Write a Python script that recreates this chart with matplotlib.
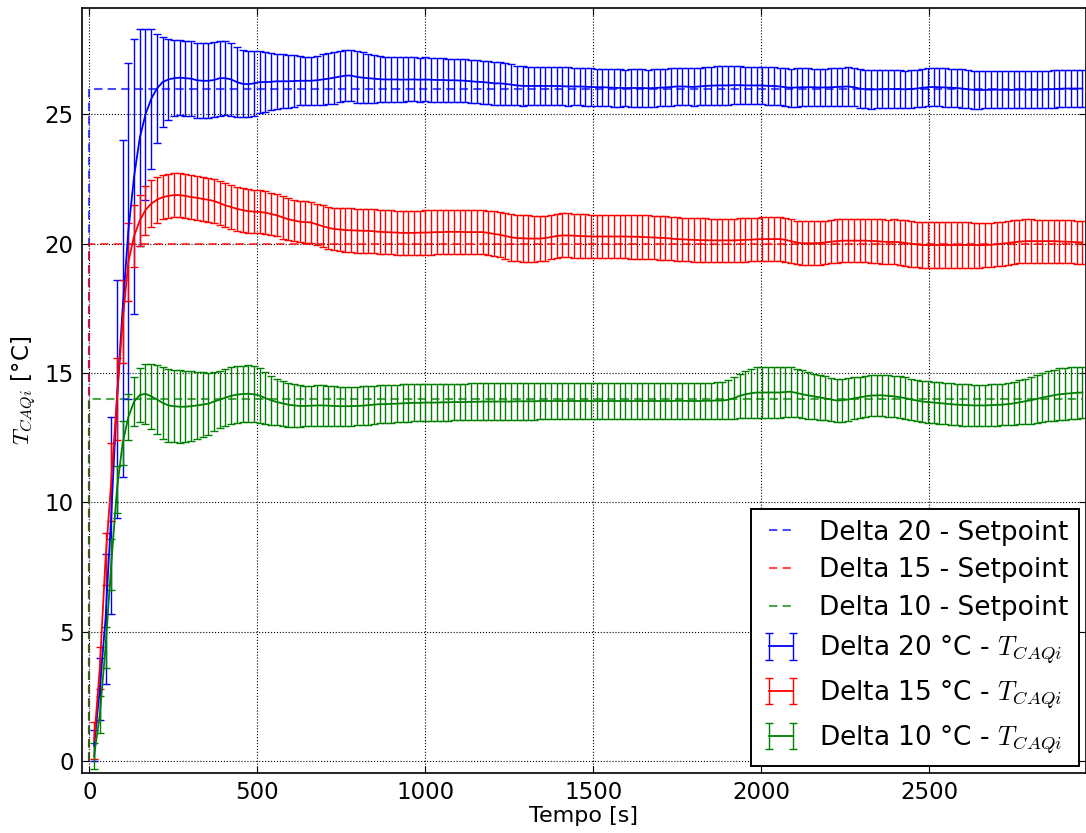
import numpy as np
import matplotlib
matplotlib.use('Agg')
import matplotlib.pyplot as plt

plt.rcParams['mathtext.fontset'] = 'cm'
plt.rcParams['font.family'] = 'DejaVu Sans'

# time base of the acquisitions (s)
tempo = np.arange(14, 2956, 17)

# setpoints (step at t = 0)
sp_tempo = [0, 0, 2955]
sp_d20 = [0, 26, 26]
sp_d15 = [0, 20, 20]
sp_d10 = [0, 14, 14]

# Delta 20 °C
t_d20 = [
    0.6, 2.8, 5.5, 9.5, 14.0, 17.5, 20.5, 22.6, 24.1, 25.0,
    25.6, 26.0, 26.25, 26.35, 26.4, 26.42, 26.4, 26.38, 26.32, 26.3,
    26.3, 26.33, 26.4, 26.4, 26.35, 26.25, 26.18, 26.17, 26.2, 26.25,
    26.25, 26.26, 26.28, 26.28, 26.28, 26.29, 26.3, 26.3, 26.3, 26.32,
    26.35, 26.38, 26.42, 26.46, 26.5, 26.5, 26.45, 26.42, 26.4, 26.38,
    26.36, 26.35, 26.35, 26.35, 26.34, 26.35, 26.35, 26.34, 26.35, 26.34,
    26.33, 26.33, 26.32, 26.32, 26.31, 26.3, 26.28, 26.26, 26.25, 26.23,
    26.2, 26.2, 26.18, 26.15, 26.12, 26.1, 26.1, 26.1, 26.1, 26.1,
    26.1, 26.1, 26.09, 26.08, 26.08, 26.08, 26.07, 26.06, 26.05, 26.05,
    26.04, 26.03, 26.02, 26.02, 26.02, 26.02, 26.02, 26.01, 26.02, 26.03,
    26.04, 26.06, 26.08, 26.08, 26.07, 26.06, 26.08, 26.1, 26.11, 26.12,
    26.12, 26.12, 26.13, 26.13, 26.12, 26.12, 26.12, 26.12, 26.1, 26.1,
    26.08, 26.05, 26.03, 26.04, 26.05, 26.05, 26.05, 26.04, 26.04, 26.05,
    26.06, 26.07, 26.08, 26.05, 26.0, 25.97, 25.96, 25.97, 25.97, 25.98,
    25.98, 25.98, 25.97, 25.98, 26.0, 26.03, 26.05, 26.06, 26.05, 26.04,
    26.03, 26.02, 26.0, 25.97, 25.95, 25.94, 25.95, 25.95, 25.96, 25.95,
    25.95, 25.95, 25.96, 25.96, 25.95, 25.95, 25.96, 25.97, 25.98, 25.99,
    26.0, 26.0, 26.0, 26.0]
err_d20 = [
    0.6, 1.2, 2.5, 3.8, 4.6, 6.5, 6.5, 5.3, 4.2, 3.3,
    2.7, 2.1, 1.75, 1.55, 1.47, 1.45, 1.45, 1.45, 1.45, 1.45,
    1.45, 1.45, 1.45, 1.42, 1.4, 1.35, 1.3, 1.28, 1.25, 1.2,
    1.15, 1.1, 1.07, 1.05, 1.03, 1.0, 0.95, 0.93, 0.93, 0.95,
    0.97, 0.98, 1.0, 1.0, 1.0, 1.0, 1.0, 0.98, 0.95, 0.93,
    0.9, 0.88, 0.87, 0.86, 0.86, 0.85, 0.85, 0.85, 0.85, 0.85,
    0.85, 0.84, 0.84, 0.84, 0.83, 0.83, 0.83, 0.83, 0.83, 0.82,
    0.82, 0.82, 0.8, 0.78, 0.77, 0.76, 0.75, 0.75, 0.75, 0.75,
    0.75, 0.74, 0.74, 0.74, 0.73, 0.73, 0.73, 0.73, 0.72, 0.72,
    0.72, 0.73, 0.72, 0.71, 0.72, 0.72, 0.73, 0.72, 0.72, 0.71,
    0.72, 0.72, 0.73, 0.73, 0.72, 0.72, 0.73, 0.74, 0.74, 0.74,
    0.74, 0.74, 0.73, 0.73, 0.73, 0.72, 0.72, 0.72, 0.72, 0.72,
    0.73, 0.73, 0.74, 0.74, 0.73, 0.73, 0.72, 0.72, 0.72, 0.73,
    0.73, 0.73, 0.74, 0.74, 0.74, 0.74, 0.74, 0.74, 0.73, 0.73,
    0.73, 0.72, 0.72, 0.72, 0.72, 0.73, 0.73, 0.74, 0.74, 0.74,
    0.74, 0.74, 0.74, 0.74, 0.73, 0.73, 0.72, 0.72, 0.72, 0.72,
    0.72, 0.72, 0.72, 0.72, 0.72, 0.72, 0.72, 0.72, 0.72, 0.72,
    0.72, 0.72, 0.72, 0.72]

# Delta 15 °C
t_d15 = [
    0.8, 3.6, 7.8, 10.8, 14.0, 17.0, 19.3, 20.3, 20.9, 21.3,
    21.55, 21.7, 21.8, 21.85, 21.88, 21.88, 21.85, 21.8, 21.78, 21.73,
    21.7, 21.65, 21.57, 21.48, 21.42, 21.35, 21.3, 21.26, 21.24, 21.23,
    21.2, 21.15, 21.1, 21.02, 20.95, 20.9, 20.85, 20.84, 20.82, 20.75,
    20.68, 20.62, 20.57, 20.55, 20.53, 20.52, 20.51, 20.5, 20.5, 20.48,
    20.46, 20.45, 20.44, 20.43, 20.42, 20.42, 20.42, 20.43, 20.43, 20.44,
    20.45, 20.45, 20.46, 20.46, 20.46, 20.45, 20.45, 20.45, 20.45, 20.42,
    20.38, 20.35, 20.3, 20.25, 20.22, 20.21, 20.2, 20.2, 20.2, 20.22,
    20.26, 20.3, 20.32, 20.32, 20.31, 20.3, 20.29, 20.28, 20.28, 20.28,
    20.28, 20.28, 20.28, 20.28, 20.27, 20.27, 20.26, 20.25, 20.24, 20.23,
    20.22, 20.2, 20.18, 20.17, 20.16, 20.15, 20.14, 20.14, 20.13, 20.13,
    20.13, 20.13, 20.13, 20.14, 20.15, 20.16, 20.17, 20.18, 20.18, 20.18,
    20.18, 20.15, 20.1, 20.05, 20.02, 20.02, 20.02, 20.03, 20.05, 20.08,
    20.1, 20.12, 20.12, 20.12, 20.12, 20.12, 20.11, 20.1, 20.08, 20.07,
    20.07, 20.06, 20.03, 20.0, 19.97, 19.95, 19.95, 19.95, 19.95, 19.95,
    19.95, 19.95, 19.95, 19.95, 19.95, 19.95, 19.95, 19.96, 19.98, 20.0,
    20.03, 20.06, 20.08, 20.1, 20.1, 20.1, 20.1, 20.1, 20.1, 20.09,
    20.08, 20.07, 20.06, 20.05]
err_d15 = [
    0.7, 0.8, 1.0, 1.5, 1.6, 1.6, 1.5, 1.2, 1.0, 0.95,
    0.9, 0.88, 0.86, 0.85, 0.85, 0.85, 0.85, 0.85, 0.85, 0.85,
    0.85, 0.85, 0.85, 0.85, 0.84, 0.84, 0.84, 0.84, 0.83, 0.83,
    0.83, 0.82, 0.82, 0.82, 0.81, 0.8, 0.8, 0.8, 0.8, 0.8,
    0.8, 0.81, 0.82, 0.83, 0.84, 0.85, 0.85, 0.85, 0.85, 0.85,
    0.85, 0.85, 0.85, 0.85, 0.85, 0.85, 0.85, 0.85, 0.86, 0.86,
    0.86, 0.86, 0.86, 0.85, 0.85, 0.85, 0.85, 0.85, 0.86, 0.86,
    0.87, 0.88, 0.89, 0.9, 0.9, 0.9, 0.9, 0.89, 0.88, 0.87,
    0.86, 0.85, 0.85, 0.85, 0.85, 0.85, 0.85, 0.85, 0.85, 0.85,
    0.85, 0.85, 0.85, 0.85, 0.85, 0.85, 0.85, 0.85, 0.84, 0.84,
    0.84, 0.84, 0.84, 0.84, 0.84, 0.84, 0.84, 0.84, 0.84, 0.84,
    0.84, 0.84, 0.84, 0.84, 0.84, 0.84, 0.84, 0.84, 0.84, 0.84,
    0.84, 0.84, 0.84, 0.84, 0.84, 0.84, 0.84, 0.84, 0.84, 0.84,
    0.84, 0.84, 0.84, 0.84, 0.84, 0.84, 0.85, 0.85, 0.86, 0.86,
    0.87, 0.87, 0.88, 0.88, 0.88, 0.88, 0.88, 0.88, 0.88, 0.88,
    0.88, 0.88, 0.88, 0.88, 0.87, 0.87, 0.86, 0.86, 0.85, 0.85,
    0.84, 0.84, 0.84, 0.84, 0.84, 0.83, 0.83, 0.83, 0.83, 0.83,
    0.83, 0.83, 0.83, 0.83]

# Delta 10 °C
t_d10 = [
    0.2, 1.8, 4.4, 7.6, 10.5, 12.3, 13.3, 13.9, 14.15, 14.2,
    14.1, 13.98, 13.85, 13.75, 13.72, 13.7, 13.7, 13.72, 13.75, 13.78,
    13.82, 13.9, 13.97, 14.05, 14.12, 14.17, 14.19, 14.2, 14.18, 14.13,
    14.03, 13.95, 13.88, 13.83, 13.78, 13.75, 13.73, 13.73, 13.74, 13.75,
    13.75, 13.74, 13.73, 13.72, 13.72, 13.72, 13.73, 13.74, 13.76, 13.78,
    13.8, 13.8, 13.81, 13.82, 13.83, 13.84, 13.85, 13.85, 13.86, 13.86,
    13.86, 13.87, 13.87, 13.88, 13.88, 13.88, 13.89, 13.89, 13.9, 13.9,
    13.9, 13.9, 13.9, 13.9, 13.91, 13.91, 13.91, 13.91, 13.92, 13.92,
    13.92, 13.92, 13.92, 13.92, 13.92, 13.92, 13.92, 13.92, 13.92, 13.92,
    13.92, 13.92, 13.92, 13.92, 13.92, 13.92, 13.92, 13.92, 13.92, 13.92,
    13.92, 13.92, 13.93, 13.93, 13.92, 13.92, 13.92, 13.93, 13.93, 13.94,
    13.94, 13.97, 14.03, 14.12, 14.18, 14.22, 14.25, 14.25, 14.25, 14.25,
    14.25, 14.27, 14.28, 14.23, 14.18, 14.14, 14.1, 14.06, 14.02, 13.98,
    13.94, 13.95, 13.98, 14.02, 14.06, 14.1, 14.13, 14.14, 14.14, 14.12,
    14.1, 14.07, 14.03, 13.98, 13.94, 13.9, 13.88, 13.86, 13.84, 13.82,
    13.8, 13.78, 13.77, 13.76, 13.75, 13.75, 13.75, 13.76, 13.77, 13.78,
    13.8, 13.83, 13.87, 13.91, 13.95, 14.0, 14.05, 14.1, 14.14, 14.18,
    14.2, 14.22, 14.24, 14.25]
err_d10 = [
    0.5, 0.7, 0.8, 1.0, 0.9, 0.85, 0.9, 0.95, 1.05, 1.15,
    1.25, 1.35, 1.4, 1.4, 1.4, 1.4, 1.38, 1.35, 1.3, 1.25,
    1.2, 1.15, 1.1, 1.1, 1.1, 1.1, 1.1, 1.1, 1.08, 1.05,
    1.0, 0.95, 0.9, 0.87, 0.85, 0.82, 0.8, 0.79, 0.78, 0.78,
    0.78, 0.77, 0.77, 0.76, 0.76, 0.76, 0.75, 0.75, 0.75, 0.74,
    0.74, 0.74, 0.73, 0.73, 0.73, 0.72, 0.72, 0.72, 0.72, 0.72,
    0.72, 0.72, 0.72, 0.71, 0.71, 0.71, 0.71, 0.71, 0.71, 0.71,
    0.71, 0.71, 0.71, 0.71, 0.71, 0.71, 0.71, 0.71, 0.71, 0.71,
    0.71, 0.71, 0.71, 0.71, 0.71, 0.7, 0.7, 0.7, 0.7, 0.7,
    0.7, 0.7, 0.7, 0.7, 0.7, 0.7, 0.7, 0.7, 0.7, 0.7,
    0.7, 0.7, 0.7, 0.7, 0.7, 0.7, 0.7, 0.7, 0.7, 0.71,
    0.72, 0.75, 0.8, 0.86, 0.9, 0.94, 0.97, 0.97, 0.97, 0.97,
    0.97, 0.97, 0.96, 0.94, 0.92, 0.9, 0.88, 0.86, 0.85, 0.84,
    0.83, 0.83, 0.82, 0.81, 0.8, 0.8, 0.8, 0.8, 0.8, 0.8,
    0.8, 0.8, 0.8, 0.8, 0.8, 0.8, 0.8, 0.8, 0.8, 0.8,
    0.8, 0.8, 0.8, 0.8, 0.8, 0.8, 0.8, 0.8, 0.8, 0.8,
    0.8, 0.82, 0.85, 0.87, 0.9, 0.92, 0.95, 0.97, 0.99, 1.0,
    1.0, 1.0, 1.0, 1.0]


fig = plt.figure(figsize=(10.86, 8.33), dpi=100)
ax = fig.add_axes([0.0755, 0.072, 0.9245, 0.918])

# setpoints
ax.plot(sp_tempo, sp_d20, color='b', lw=1.5, dashes=(4, 2.5), alpha=0.7, label='Delta 20 - Setpoint')
ax.plot(sp_tempo, sp_d15, color='r', lw=1.5, dashes=(4, 2.5), alpha=0.7, label='Delta 15 - Setpoint')
ax.plot(sp_tempo, sp_d10, color='g', lw=1.5, dashes=(4, 2.5), alpha=0.7, label='Delta 10 - Setpoint')

# measured temperature with std
ax.errorbar(tempo, t_d20, yerr=err_d20, color='b', lw=1.3, elinewidth=1, capsize=3,
            label=r'Delta 20 °C - $T_{CAQi}$')
ax.errorbar(tempo, t_d15, yerr=err_d15, color='r', lw=1.3, elinewidth=1, capsize=3,
            label=r'Delta 15 °C - $T_{CAQi}$')
ax.errorbar(tempo, t_d10, yerr=err_d10, color='g', lw=1.3, elinewidth=1, capsize=3,
            label=r'Delta 10 °C - $T_{CAQi}$')

ax.set_xlim(-22, 2966)
ax.set_ylim(-0.46, 29.1)
ax.set_xticks([0, 500, 1000, 1500, 2000, 2500])
ax.set_yticks([0, 5, 10, 15, 20, 25])
ax.grid(True, color='k', linestyle=':', linewidth=0.8)
ax.tick_params(direction='in', top=True, right=True, length=5, labelsize=16.5, pad=6)
for s in ax.spines.values():
    s.set_linewidth(1.2)

ax.set_xlabel('Tempo [s]', fontsize=16, labelpad=1)
ax.set_ylabel(r'$T_{CAQi}$ [°C]', fontsize=16.5, labelpad=4)

leg = ax.legend(loc='lower right', fontsize=19, numpoints=2, borderaxespad=0.25,
                borderpad=0.4, handlelength=1.5, handletextpad=0.7, labelspacing=0.45,
                fancybox=False, framealpha=1, edgecolor='k')
leg.get_frame().set_linewidth(1.4)

fig.savefig('out.png', dpi=100)
